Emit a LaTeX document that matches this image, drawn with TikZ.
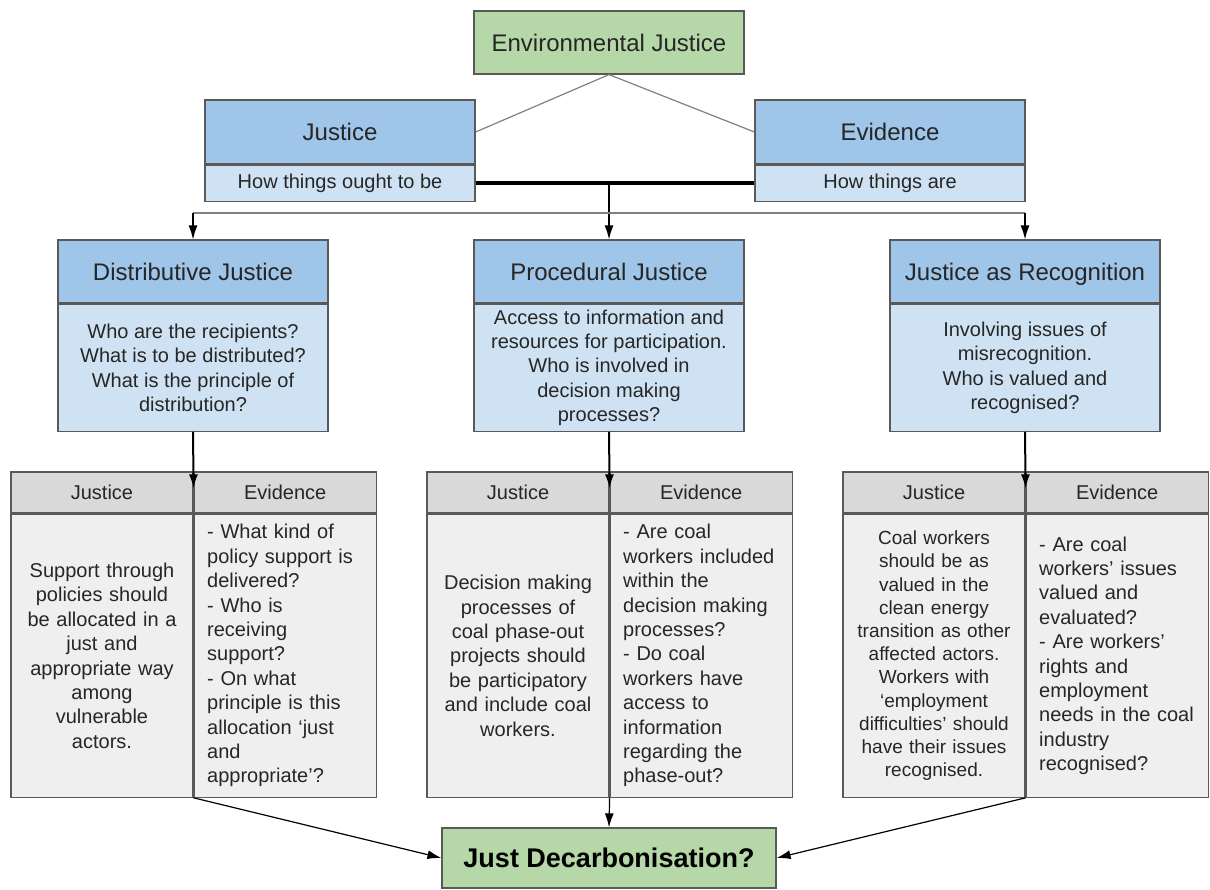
\documentclass[tikz,border=0pt]{standalone}
\usepackage{fontspec}
\setmainfont{Liberation Sans}
\usetikzlibrary{arrows.meta,positioning,calc}

\definecolor{hdrblue}{HTML}{9FC5E8}
\definecolor{bodyblue}{HTML}{CFE2F3}
\definecolor{boxgreen}{HTML}{B6D7A8}
\definecolor{cellgray}{HTML}{D9D9D9}
\definecolor{celllight}{HTML}{EFEFEF}
\definecolor{edgegray}{HTML}{595959}
\definecolor{txtgray}{HTML}{262626}

\tikzset{
  box/.style={draw=edgegray, line width=0.6pt, inner sep=0pt, text=txtgray, align=center},
  greenbox/.style={box, fill=boxgreen},
  bluehead/.style={box, fill=hdrblue, minimum width=135pt, minimum height=31.5pt, text height=10.6pt, text depth=2pt, font=\fontsize{12}{14}\selectfont},
  bluebody/.style={box, fill=bodyblue, minimum width=135pt, minimum height=63.5pt, font=\fontsize{10}{12.2}\selectfont},
  tabhead/.style={box, fill=cellgray, minimum width=91pt, minimum height=20.5pt, text height=9pt, text depth=1.8pt, font=\fontsize{10}{12}\selectfont},
  tabjust/.style={box, fill=celllight, minimum width=91pt, minimum height=141.5pt, text width=82pt, font=\fontsize{10}{12.2}\selectfont},
  tabevid/.style={box, fill=celllight, minimum width=91pt, minimum height=141.5pt, text width=78pt, inner xsep=6.5pt, align=left, font=\fontsize{10}{12.2}\selectfont},
  greyline/.style={draw=gray, line width=0.6pt},
  arr/.style={-{Latex[length=7pt,width=4.5pt]}, line width=0.6pt},
  arrthick/.style={-{Latex[length=7pt,width=4.5pt]}, line width=1pt},
}

\begin{document}
\begin{tikzpicture}[x=0.5pt,y=-0.5pt]
    \useasboundingbox (0,0) rectangle (1210,889);
    % Top
    \node[greenbox, minimum width=135pt, minimum height=31.5pt, font=\fontsize{12}{14}\selectfont] (env) at (609,42.5) {Environmental Justice};
    \node[bluehead, minimum height=32pt] (jhead) at (340,132) {Justice};
    \node[bluebody, minimum height=18pt, below=0pt of jhead] (jsub) {How things ought to be};
    \node[bluehead, minimum height=32pt] (ehead) at (890,132) {Evidence};
    \node[bluebody, minimum height=18pt, below=0pt of ehead] (esub) {How things are};
    \draw[greyline] (env.south) -- (jhead.east);
    \draw[greyline] (env.south) -- (ehead.west);
    \draw[line width=2pt] (jsub.east) -- (esub.west);
    % Three kinds of justice
    \node[bluehead] (disthead) at (193,271.5) {Distributive Justice};
    \node[bluebody, below=0pt of disthead] (distbody) {Who are the recipients?\\What is to be distributed?\\What is the principle of\\distribution?};
    \node[bluehead] (prochead) at (609,271.5) {Procedural Justice};
    \node[bluebody, below=0pt of prochead] (procbody) {Access to information and\\resources for participation.\\Who is involved in\\decision making\\processes?};
    \node[bluehead] (rechead) at (1025,271.5) {Justice as Recognition};
    \node[bluebody, below=0pt of rechead] (recbody) {Involving issues of\\misrecognition.\\Who is valued and\\recognised?};
    \coordinate (split) at (609,213);
    \draw[arr] (jsub.east -| prochead.north) -- (prochead.north);
    \draw[greyline] (split -| disthead.north) -- (split -| rechead.north);
    \draw[arr] (split -| disthead.north) -- (disthead.north);
    \draw[arr] (split -| rechead.north) -- (rechead.north);
    % Tables
    \node[tabhead] (tajh) at (102,492.5) {Justice};
    \node[tabhead, right=0pt of tajh] (taeh) {Evidence};
    \node[tabjust, below=0pt of tajh] (tajb) {Support through\\policies should\\be allocated in a\\just and\\appropriate way\\among\\vulnerable\\actors.};
    \node[tabevid, below=0pt of taeh] (taeb) {- What kind of\\policy support is\\delivered?\\- Who is\\receiving\\support?\\- On what\\principle is this\\allocation ‘just\\and\\appropriate’?};
    \node[tabhead] (tbjh) at (518,492.5) {Justice};
    \node[tabhead, right=0pt of tbjh] (tbeh) {Evidence};
    \node[tabjust, below=0pt of tbjh] (tbjb) {Decision making\\processes of\\coal phase-out\\projects should\\be participatory\\and include coal\\workers.};
    \node[tabevid, below=0pt of tbeh] (tbeb) {- Are coal\\workers included\\within the\\decision making\\processes?\\- Do coal\\workers have\\access to\\information\\regarding the\\phase-out?};
    \node[tabhead] (tcjh) at (934,492.5) {Justice};
    \node[tabhead, right=0pt of tcjh] (tceh) {Evidence};
    \node[tabjust, below=0pt of tcjh, font=\fontsize{9.5}{11.6}\selectfont] (tcjb) {Coal workers\\should be as\\valued in the\\clean energy\\transition as other\\affected actors.\\Workers with\\‘employment\\difficulties’ should\\have their issues\\recognised.};
    \node[tabevid, below=0pt of tceh] (tceb) {- Are coal\\workers’ issues\\valued and\\evaluated?\\- Are workers’\\rights and\\employment\\needs in the coal\\industry\\recognised?};
    \draw[arrthick] (distbody.south) -- ($(tajh.north east)+(0,-8.5pt)$);
    \draw[arrthick] (procbody.south) -- ($(tbjh.north east)+(0,-8.5pt)$);
    \draw[arrthick] (recbody.south) -- ($(tcjh.north east)+(0,-8.5pt)$);
    % Bottom
    \node[greenbox, minimum width=167pt, minimum height=30pt, text=black, font=\fontsize{13.5}{16}\selectfont\bfseries] (jd) at (609,858) {Just Decarbonisation?};
    \draw[arr] (tajb.south east) -- (jd.west);
    \draw[arr] (tbjb.south east) -- (jd.north);
    \draw[arr] (tcjb.south east) -- (jd.east);
\end{tikzpicture}
\end{document}
